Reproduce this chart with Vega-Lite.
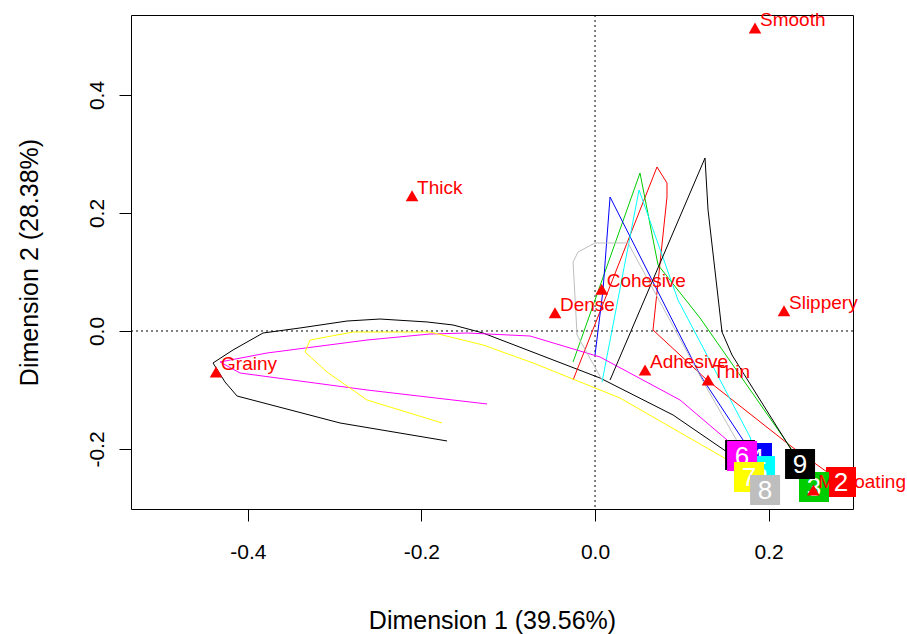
{
  "$schema": "https://vega.github.io/schema/vega-lite/v6.json",
  "width": 722,
  "height": 494,
  "autosize": {"type": "none"},
  "padding": {"left": 131, "top": 15, "right": 54, "bottom": 125},
  "background": "white",
  "config": {
    "view": {"stroke": "black", "strokeWidth": 1},
    "font": "Liberation Sans",
    "axis": {"labelFont": "Liberation Sans", "titleFont": "Liberation Sans", "labelColor": "black", "titleColor": "black", "tickColor": "black", "grid": false, "domain": false, "titleFontWeight": "normal"}
  },
  "datasets": {
    "traj": [
      {"t": "1", "i": 1, "x": -0.1705, "y": -0.1864},
      {"t": "1", "i": 2, "x": -0.2938, "y": -0.1559},
      {"t": "1", "i": 3, "x": -0.4124, "y": -0.1102},
      {"t": "1", "i": 4, "x": -0.4263, "y": -0.0864},
      {"t": "1", "i": 5, "x": -0.4401, "y": -0.0542},
      {"t": "1", "i": 6, "x": -0.4171, "y": -0.0322},
      {"t": "1", "i": 7, "x": -0.3825, "y": -0.0034},
      {"t": "1", "i": 8, "x": -0.3399, "y": 0.0051},
      {"t": "1", "i": 9, "x": -0.2857, "y": 0.0169},
      {"t": "1", "i": 10, "x": -0.2477, "y": 0.0203},
      {"t": "1", "i": 11, "x": -0.1935, "y": 0.0153},
      {"t": "1", "i": 12, "x": -0.1636, "y": 0.0102},
      {"t": "1", "i": 13, "x": -0.1290, "y": -0.0034},
      {"t": "1", "i": 14, "x": 0.0058, "y": -0.0797},
      {"t": "1", "i": 15, "x": 0.0899, "y": -0.1424},
      {"t": "1", "i": 16, "x": 0.1521, "y": -0.2051},
      {"t": "1", "i": 17, "x": 0.1671, "y": -0.2102},
      {"t": "2", "i": 1, "x": -0.0253, "y": -0.0831},
      {"t": "2", "i": 2, "x": 0.0714, "y": 0.2780},
      {"t": "2", "i": 3, "x": 0.0829, "y": 0.2508},
      {"t": "2", "i": 4, "x": 0.0829, "y": 0.2271},
      {"t": "2", "i": 5, "x": 0.0668, "y": 0.0017},
      {"t": "2", "i": 6, "x": 0.1290, "y": -0.0831},
      {"t": "2", "i": 7, "x": 0.2270, "y": -0.1966},
      {"t": "2", "i": 8, "x": 0.2834, "y": -0.2559},
      {"t": "3", "i": 1, "x": -0.0253, "y": -0.0525},
      {"t": "3", "i": 2, "x": 0.0518, "y": 0.2678},
      {"t": "3", "i": 3, "x": 0.0726, "y": 0.1119},
      {"t": "3", "i": 4, "x": 0.1210, "y": 0.0220},
      {"t": "3", "i": 5, "x": 0.2247, "y": -0.1966},
      {"t": "3", "i": 6, "x": 0.2523, "y": -0.2644},
      {"t": "4", "i": 1, "x": 0.0000, "y": -0.0407},
      {"t": "4", "i": 2, "x": 0.0092, "y": 0.0695},
      {"t": "4", "i": 3, "x": 0.0173, "y": 0.2271},
      {"t": "4", "i": 4, "x": 0.1210, "y": -0.0746},
      {"t": "4", "i": 5, "x": 0.1705, "y": -0.1847},
      {"t": "4", "i": 6, "x": 0.1866, "y": -0.2153},
      {"t": "5", "i": 1, "x": 0.0081, "y": -0.0864},
      {"t": "5", "i": 2, "x": 0.0507, "y": 0.2390},
      {"t": "5", "i": 3, "x": 0.0956, "y": 0.0525},
      {"t": "5", "i": 4, "x": 0.1786, "y": -0.1797},
      {"t": "5", "i": 5, "x": 0.1901, "y": -0.2373},
      {"t": "6", "i": 1, "x": -0.1244, "y": -0.1237},
      {"t": "6", "i": 2, "x": -0.2627, "y": -0.1000},
      {"t": "6", "i": 3, "x": -0.4090, "y": -0.0712},
      {"t": "6", "i": 4, "x": -0.4320, "y": -0.0525},
      {"t": "6", "i": 5, "x": -0.3779, "y": -0.0373},
      {"t": "6", "i": 6, "x": -0.2627, "y": -0.0153},
      {"t": "6", "i": 7, "x": -0.1901, "y": -0.0051},
      {"t": "6", "i": 8, "x": -0.1475, "y": -0.0034},
      {"t": "6", "i": 9, "x": -0.0749, "y": -0.0085},
      {"t": "6", "i": 10, "x": 0.0058, "y": -0.0441},
      {"t": "6", "i": 11, "x": 0.0979, "y": -0.1169},
      {"t": "6", "i": 12, "x": 0.1521, "y": -0.1847},
      {"t": "6", "i": 13, "x": 0.1694, "y": -0.2119},
      {"t": "7", "i": 1, "x": -0.1763, "y": -0.1559},
      {"t": "7", "i": 2, "x": -0.2627, "y": -0.1169},
      {"t": "7", "i": 3, "x": -0.3088, "y": -0.0695},
      {"t": "7", "i": 4, "x": -0.3341, "y": -0.0356},
      {"t": "7", "i": 5, "x": -0.3283, "y": -0.0153},
      {"t": "7", "i": 6, "x": -0.2788, "y": -0.0017},
      {"t": "7", "i": 7, "x": -0.1901, "y": -0.0017},
      {"t": "7", "i": 8, "x": -0.1290, "y": -0.0237},
      {"t": "7", "i": 9, "x": -0.0714, "y": -0.0542},
      {"t": "7", "i": 10, "x": 0.0288, "y": -0.1136},
      {"t": "7", "i": 11, "x": 0.1590, "y": -0.2237},
      {"t": "7", "i": 12, "x": 0.1774, "y": -0.2475},
      {"t": "8", "i": 1, "x": 0.0081, "y": -0.0831},
      {"t": "8", "i": 2, "x": -0.0207, "y": -0.0068},
      {"t": "8", "i": 3, "x": -0.0253, "y": 0.1169},
      {"t": "8", "i": 4, "x": -0.0196, "y": 0.1339},
      {"t": "8", "i": 5, "x": 0.0000, "y": 0.1492},
      {"t": "8", "i": 6, "x": 0.0380, "y": 0.1492},
      {"t": "8", "i": 7, "x": 0.1267, "y": -0.0915},
      {"t": "8", "i": 8, "x": 0.1959, "y": -0.2695},
      {"t": "9", "i": 1, "x": 0.0173, "y": -0.0831},
      {"t": "9", "i": 2, "x": 0.1267, "y": 0.2932},
      {"t": "9", "i": 3, "x": 0.1302, "y": 0.2051},
      {"t": "9", "i": 4, "x": 0.1463, "y": -0.0017},
      {"t": "9", "i": 5, "x": 0.1578, "y": -0.0407},
      {"t": "9", "i": 6, "x": 0.2212, "y": -0.1898},
      {"t": "9", "i": 7, "x": 0.2362, "y": -0.2254}
    ],
    "ends": [
      {"t": "1", "x": 0.1671, "y": -0.2102},
      {"t": "2", "x": 0.2834, "y": -0.2559},
      {"t": "3", "x": 0.2523, "y": -0.2644},
      {"t": "4", "x": 0.1866, "y": -0.2153},
      {"t": "5", "x": 0.1901, "y": -0.2373},
      {"t": "6", "x": 0.1694, "y": -0.2119},
      {"t": "7", "x": 0.1774, "y": -0.2475},
      {"t": "8", "x": 0.1959, "y": -0.2695},
      {"t": "9", "x": 0.2362, "y": -0.2254}
    ],
    "attrs": [
      {"name": "Smooth", "x": 0.1843, "y": 0.5136},
      {"name": "Thick", "x": -0.2108, "y": 0.2293},
      {"name": "Cohesive", "x": 0.0077, "y": 0.0706},
      {"name": "Dense", "x": -0.0461, "y": 0.0310},
      {"name": "Slippery", "x": 0.2177, "y": 0.0344},
      {"name": "Grainy", "x": -0.4366, "y": -0.0695},
      {"name": "Adhesive", "x": 0.0576, "y": -0.0661},
      {"name": "Thin", "x": 0.1302, "y": -0.0831},
      {"name": "M_coating", "x": 0.2515, "y": -0.2695}
    ],
    "zero": [{"v": 0}]
  },
  "layer": [
    {
      "data": {"name": "zero"},
      "mark": {"type": "rule", "color": "black", "strokeWidth": 1, "strokeDash": [2, 3]},
      "encoding": {"x": {"field": "v", "type": "quantitative"}}
    },
    {
      "data": {"name": "zero"},
      "mark": {"type": "rule", "color": "black", "strokeWidth": 1, "strokeDash": [2, 3]},
      "encoding": {"y": {"field": "v", "type": "quantitative"}}
    },
    {
      "data": {"name": "traj"},
      "mark": {"type": "line", "strokeWidth": 1},
      "encoding": {
        "x": {"field": "x", "type": "quantitative", "scale": {"domain": [-0.5346, 0.2972], "nice": false, "zero": false},
          "axis": {"values": [-0.4, -0.2, 0, 0.2], "labelExpr": "replace(format(datum.value, '.1f'), '\u2212', '-')", "labelFontSize": 21, "tickSize": 12, "labelPadding": 20, "title": "Dimension 1 (39.56%)", "titleFontSize": 25, "titleY": 111, "titleBaseline": "middle"}},
        "y": {"field": "y", "type": "quantitative", "scale": {"domain": [-0.3017, 0.5356], "nice": false, "zero": false},
          "axis": {"values": [-0.2, 0, 0.2, 0.4], "labelExpr": "replace(format(datum.value, '.1f'), '\u2212', '-')", "labelFontSize": 21, "tickSize": 12, "labelPadding": 16, "labelAngle": -90, "labelAlign": "center", "labelBaseline": "alphabetic", "title": "Dimension 2 (28.38%)", "titleFontSize": 25, "titleX": -102, "titleY": 247, "titleAngle": -90, "titleBaseline": "middle", "titleAlign": "center"}},
        "color": {"field": "t", "type": "nominal", "legend": null,
          "scale": {"domain": ["1", "2", "3", "4", "5", "6", "7", "8", "9"], "range": ["#000000", "#FF0000", "#00CD00", "#0000FF", "#00FFFF", "#FF00FF", "#FFFF00", "#BEBEBE", "#000000"]}},
        "detail": {"field": "t"},
        "order": {"field": "i", "type": "quantitative"}
      }
    },
    {"data": {"name": "ends"}, "transform": [{"filter": "datum.t == '1'"}], "layer": [
      {"mark": {"type": "point", "shape": "square", "filled": true, "size": 900, "opacity": 1}, "encoding": {"x": {"field": "x", "type": "quantitative"}, "y": {"field": "y", "type": "quantitative"}, "color": {"field": "t", "type": "nominal", "legend": null}}},
      {"mark": {"type": "text", "color": "white", "fontSize": 26, "align": "center", "baseline": "middle", "dy": 1}, "encoding": {"x": {"field": "x", "type": "quantitative"}, "y": {"field": "y", "type": "quantitative"}, "text": {"field": "t"}}}
    ]},
    {"data": {"name": "ends"}, "transform": [{"filter": "datum.t == '2'"}], "layer": [
      {"mark": {"type": "point", "shape": "square", "filled": true, "size": 900, "opacity": 1}, "encoding": {"x": {"field": "x", "type": "quantitative"}, "y": {"field": "y", "type": "quantitative"}, "color": {"field": "t", "type": "nominal", "legend": null}}},
      {"mark": {"type": "text", "color": "white", "fontSize": 26, "align": "center", "baseline": "middle", "dy": 1}, "encoding": {"x": {"field": "x", "type": "quantitative"}, "y": {"field": "y", "type": "quantitative"}, "text": {"field": "t"}}}
    ]},
    {"data": {"name": "ends"}, "transform": [{"filter": "datum.t == '3'"}], "layer": [
      {"mark": {"type": "point", "shape": "square", "filled": true, "size": 900, "opacity": 1}, "encoding": {"x": {"field": "x", "type": "quantitative"}, "y": {"field": "y", "type": "quantitative"}, "color": {"field": "t", "type": "nominal", "legend": null}}},
      {"mark": {"type": "text", "color": "white", "fontSize": 26, "align": "center", "baseline": "middle", "dy": 1}, "encoding": {"x": {"field": "x", "type": "quantitative"}, "y": {"field": "y", "type": "quantitative"}, "text": {"field": "t"}}}
    ]},
    {"data": {"name": "ends"}, "transform": [{"filter": "datum.t == '4'"}], "layer": [
      {"mark": {"type": "point", "shape": "square", "filled": true, "size": 900, "opacity": 1}, "encoding": {"x": {"field": "x", "type": "quantitative"}, "y": {"field": "y", "type": "quantitative"}, "color": {"field": "t", "type": "nominal", "legend": null}}},
      {"mark": {"type": "text", "color": "white", "fontSize": 26, "align": "center", "baseline": "middle", "dy": 1}, "encoding": {"x": {"field": "x", "type": "quantitative"}, "y": {"field": "y", "type": "quantitative"}, "text": {"field": "t"}}}
    ]},
    {"data": {"name": "ends"}, "transform": [{"filter": "datum.t == '5'"}], "layer": [
      {"mark": {"type": "point", "shape": "square", "filled": true, "size": 900, "opacity": 1}, "encoding": {"x": {"field": "x", "type": "quantitative"}, "y": {"field": "y", "type": "quantitative"}, "color": {"field": "t", "type": "nominal", "legend": null}}},
      {"mark": {"type": "text", "color": "white", "fontSize": 26, "align": "center", "baseline": "middle", "dy": 1}, "encoding": {"x": {"field": "x", "type": "quantitative"}, "y": {"field": "y", "type": "quantitative"}, "text": {"field": "t"}}}
    ]},
    {"data": {"name": "ends"}, "transform": [{"filter": "datum.t == '6'"}], "layer": [
      {"mark": {"type": "point", "shape": "square", "filled": true, "size": 900, "opacity": 1}, "encoding": {"x": {"field": "x", "type": "quantitative"}, "y": {"field": "y", "type": "quantitative"}, "color": {"field": "t", "type": "nominal", "legend": null}}},
      {"mark": {"type": "text", "color": "white", "fontSize": 26, "align": "center", "baseline": "middle", "dy": 1}, "encoding": {"x": {"field": "x", "type": "quantitative"}, "y": {"field": "y", "type": "quantitative"}, "text": {"field": "t"}}}
    ]},
    {"data": {"name": "ends"}, "transform": [{"filter": "datum.t == '7'"}], "layer": [
      {"mark": {"type": "point", "shape": "square", "filled": true, "size": 900, "opacity": 1}, "encoding": {"x": {"field": "x", "type": "quantitative"}, "y": {"field": "y", "type": "quantitative"}, "color": {"field": "t", "type": "nominal", "legend": null}}},
      {"mark": {"type": "text", "color": "white", "fontSize": 26, "align": "center", "baseline": "middle", "dy": 1}, "encoding": {"x": {"field": "x", "type": "quantitative"}, "y": {"field": "y", "type": "quantitative"}, "text": {"field": "t"}}}
    ]},
    {"data": {"name": "ends"}, "transform": [{"filter": "datum.t == '8'"}], "layer": [
      {"mark": {"type": "point", "shape": "square", "filled": true, "size": 900, "opacity": 1}, "encoding": {"x": {"field": "x", "type": "quantitative"}, "y": {"field": "y", "type": "quantitative"}, "color": {"field": "t", "type": "nominal", "legend": null}}},
      {"mark": {"type": "text", "color": "white", "fontSize": 26, "align": "center", "baseline": "middle", "dy": 1}, "encoding": {"x": {"field": "x", "type": "quantitative"}, "y": {"field": "y", "type": "quantitative"}, "text": {"field": "t"}}}
    ]},
    {"data": {"name": "ends"}, "transform": [{"filter": "datum.t == '9'"}], "layer": [
      {"mark": {"type": "point", "shape": "square", "filled": true, "size": 900, "opacity": 1}, "encoding": {"x": {"field": "x", "type": "quantitative"}, "y": {"field": "y", "type": "quantitative"}, "color": {"field": "t", "type": "nominal", "legend": null}}},
      {"mark": {"type": "text", "color": "white", "fontSize": 26, "align": "center", "baseline": "middle", "dy": 1}, "encoding": {"x": {"field": "x", "type": "quantitative"}, "y": {"field": "y", "type": "quantitative"}, "text": {"field": "t"}}}
    ]},
    {
      "data": {"name": "attrs"},
      "mark": {"type": "point", "shape": "triangle-up", "filled": true, "size": 160, "color": "#FF0000", "opacity": 1},
      "encoding": {
        "x": {"field": "x", "type": "quantitative"},
        "y": {"field": "y", "type": "quantitative"}
      }
    },
    {
      "data": {"name": "attrs"},
      "mark": {"type": "text", "color": "#FF0000", "fontSize": 19, "align": "left", "baseline": "alphabetic", "dx": 5, "dy": -2},
      "encoding": {
        "x": {"field": "x", "type": "quantitative"},
        "y": {"field": "y", "type": "quantitative"},
        "text": {"field": "name"}
      }
    }
  ]
}
